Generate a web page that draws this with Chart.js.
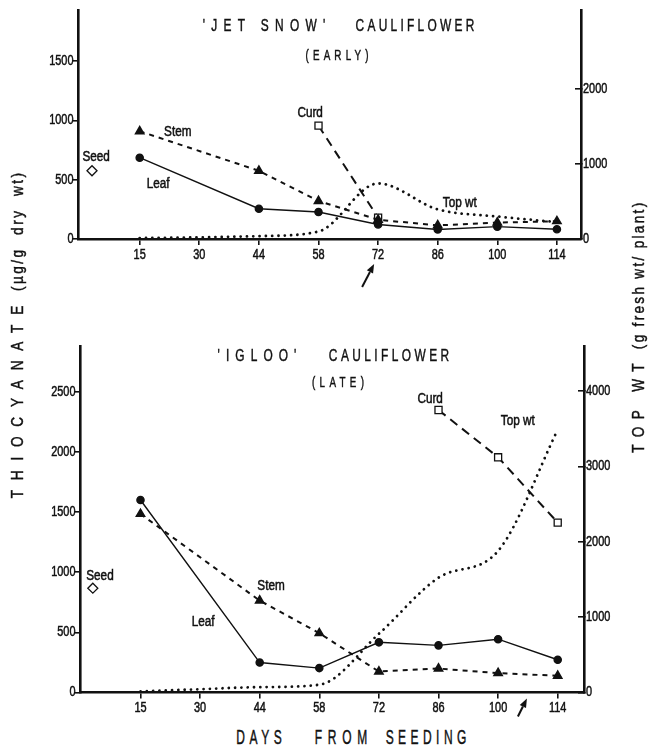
<!DOCTYPE html>
<html>
<head>
<meta charset="utf-8">
<script src="https://cdn.jsdelivr.net/npm/chart.js@4.4.1/dist/chart.umd.min.js"></script>
<style>
  html, body { margin:0; padding:0; background:#fff; }
  body { width:657px; height:746px; overflow:hidden; position:relative;
         font-family:'Liberation Sans',Arial,sans-serif; color:#111; }
  .panel { position:absolute; left:0; width:657px; }
  .t, .x, .rot { -webkit-text-stroke:0.45px #111; }
  .t { position:absolute; white-space:nowrap; line-height:1; transform:translate(-50%,-50%) scaleX(0.7); }
  .x { position:absolute; white-space:nowrap; line-height:1; transform:translate(-50%,-50%) scaleX(0.6); font-size:20px; }
  .rot { position:absolute; white-space:nowrap; line-height:1; font-size:16px;
         transform:translate(-50%,-50%) rotate(-90deg) scaleX(0.85); }
</style>
</head>
<body>
<div class="panel" style="top:0;height:300px"><canvas id="c1"></canvas></div>
<div class="panel" style="top:330px;height:395px"><canvas id="c2"></canvas></div>

<!-- panel titles -->
<div class="t" style="left:264px;top:25px;font-size:17px;letter-spacing:9px;padding-left:9px">'JET SNOW'</div>
<div class="t" style="left:415px;top:25px;font-size:17px;letter-spacing:4.7px;padding-left:4.7px">CAULIFLOWER</div>
<div class="t" style="left:337px;top:55px;font-size:14px;letter-spacing:6px;padding-left:6px">(EARLY)</div>
<div class="t" style="left:257px;top:355px;font-size:17px;letter-spacing:8.7px;padding-left:8.7px">'IGLOO'</div>
<div class="t" style="left:389px;top:355px;font-size:17px;letter-spacing:4.9px;padding-left:4.9px">CAULIFLOWER</div>
<div class="t" style="left:338px;top:382px;font-size:14px;letter-spacing:6.2px;padding-left:6.2px">(LATE)</div>

<!-- axis titles -->
<div class="rot" style="left:18px;top:402px;letter-spacing:11.5px;padding-left:11.5px">THIOCYANATE</div>
<div class="rot" style="left:18px;top:232px;letter-spacing:2.9px;padding-left:2.9px">(µg/g&nbsp;&nbsp;dry&nbsp;&nbsp;wt)</div>
<div class="rot" style="left:639px;top:408px;letter-spacing:8.7px;padding-left:8.7px">TOP WT</div>
<div class="rot" style="left:639px;top:276px;letter-spacing:2.7px;padding-left:2.7px">(g fresh wt/ plant)</div>
<div class="x" style="left:259px;top:737px;letter-spacing:7.7px;padding-left:7.7px">DAYS</div>
<div class="x" style="left:341px;top:737px;letter-spacing:9.5px;padding-left:9.5px">FROM</div>
<div class="x" style="left:426px;top:737px;letter-spacing:7.4px;padding-left:7.4px">SEEDING</div>

<script>
// ---- data ----
const days = [15, 30, 44, 58, 72, 86, 100, 114];
const sampleDays = [15, 44, 58, 72, 86, 100, 114];

// 'Jet Snow' (early)
const jetLeaf = [685, 255, 228, 122, 80, 104, 82];
const jetStem = [908, 575, 320, 162, 115, 138, 150];
const jetCurdDays = [58, 72];
const jetCurd = [955, 180];
const jetSeed = [575];
const jetTopWt = [12, 22, 38, 100, 740, 395, 300, 225];
const jetLeftTicks = [0, 500, 1000, 1500];
const jetRightTicks = [0, 1000, 2000];

// 'Igloo' (late)
const iglooLeaf = [1600, 249, 203, 417, 392, 443, 272];
const iglooStem = [1484, 764, 493, 174, 199, 161, 139];
const iglooCurdDays = [86, 100, 114];
const iglooCurd = [2348, 1955, 1412];
const iglooSeed = [867];
const iglooTopWt = [13, 44, 71, 103, 780, 1524, 1880, 3488];
const iglooLeftTicks = [0, 500, 1000, 1500, 2000, 2500];
const iglooRightTicks = [0, 1000, 2000, 3000, 4000];

const SEED_SLOT = -0.8;               // seed shown before first sampling day
const pos = d => days.indexOf(d);
const pts = (ds, vals) => ds.map((d, i) => ({ x: pos(d), y: vals[i] }));

const INK = '#111';
const FONT = "'Liberation Sans', Arial, sans-serif";
const NARROW = 0.78;   // horizontal squeeze for condensed-looking labels

function narrowText(ctx, txt, x, y, align, sx) {
  ctx.save();
  ctx.translate(x, y);
  ctx.scale(sx, 1);
  ctx.textAlign = align;
  ctx.fillText(String(txt), 0, 0);
  ctx.lineWidth = 0.5;
  ctx.strokeStyle = INK;
  ctx.strokeText(String(txt), 0, 0);
  ctx.restore();
}

// draws the tick labels of the library's scales in a condensed face
const tickLabelPlugin = {
  id: 'condensedTicks',
  afterDraw(chart) {
    const { ctx } = chart;
    const { x, y, y2 } = chart.scales;
    ctx.save();
    ctx.fillStyle = INK;
    ctx.font = '14px ' + FONT;
    ctx.textBaseline = 'middle';
    x.ticks.forEach(t => narrowText(ctx, days[t.value], x.getPixelForValue(t.value), x.top + 16, 'center', NARROW));
    y.ticks.forEach(t => narrowText(ctx, t.value, y.right - 4.5, y.getPixelForValue(t.value), 'right', NARROW));
    y2.ticks.forEach(t => narrowText(ctx, t.value, y2.left + 2, y2.getPixelForValue(t.value), 'left', NARROW));
    ctx.restore();
  }
};

const notesPlugin = {
  id: 'notes',
  afterDatasetsDraw(chart, args, o) {
    const { ctx, scales } = chart;
    const x = scales.x, y = scales.y;
    ctx.save();
    ctx.fillStyle = INK;
    ctx.font = '14px ' + FONT;
    ctx.textBaseline = 'middle';
    (o.notes || []).forEach(n => narrowText(ctx, n.text, x.getPixelForValue(n.x), y.getPixelForValue(n.y), 'center', 0.84));
    if (o.arrow) {
      const a = o.arrow;
      const bx = x.getPixelForValue(a.x), by = chart.chartArea.bottom;
      const tx = bx + a.tip[0], ty = by + a.tip[1];
      const sx = bx + a.tail[0], sy = by + a.tail[1];
      const ang = Math.atan2(ty - sy, tx - sx);
      const L = 9, W = 3.5;
      const hx = tx - L * Math.cos(ang), hy = ty - L * Math.sin(ang);
      ctx.strokeStyle = INK; ctx.lineWidth = 2;
      ctx.beginPath(); ctx.moveTo(sx, sy); ctx.lineTo(hx, hy); ctx.stroke();
      ctx.beginPath();
      ctx.moveTo(tx, ty);
      ctx.lineTo(hx + W * Math.sin(ang), hy - W * Math.cos(ang));
      ctx.lineTo(hx - W * Math.sin(ang), hy + W * Math.cos(ang));
      ctx.closePath(); ctx.fill();
    }
    ctx.restore();
  }
};

function makeChart(id, cfg) {
  const axisBorder = { color: INK, width: 2.6 };
  const grid = { drawOnChartArea: false, color: INK, lineWidth: 1.6, tickLength: 6 };
  const hidden = { display: false };
  return new Chart(document.getElementById(id), {
    type: 'line',
    data: {
      datasets: [
        { label: 'Top wt', yAxisID: 'y2', data: cfg.topWt.map((v, i) => ({ x: i, y: v })),
          borderColor: INK, borderWidth: 2.8, borderDash: [0.01, 6.3], borderCapStyle: 'round',
          pointRadius: 0, cubicInterpolationMode: 'monotone', fill: false },
        { label: 'Leaf', data: pts(sampleDays, cfg.leaf), borderColor: INK, borderWidth: 1.4,
          pointStyle: 'circle', pointRadius: 3.6, pointBackgroundColor: INK, pointBorderColor: INK },
        { label: 'Stem', data: pts(sampleDays, cfg.stem), borderColor: INK, borderWidth: 2, borderDash: [5, 5],
          pointStyle: 'triangle', pointRadius: 4.3, pointBackgroundColor: INK, pointBorderColor: INK },
        { label: 'Curd', data: pts(cfg.curdDays, cfg.curd), borderColor: INK, borderWidth: 2, borderDash: [9, 6],
          pointStyle: 'rect', pointRadius: 5, pointBackgroundColor: '#fff', pointBorderColor: INK, pointBorderWidth: 1.3 },
        { label: 'Seed', data: [{ x: SEED_SLOT, y: cfg.seed[0] }], showLine: false,
          pointStyle: 'rectRot', pointRadius: 5, pointBackgroundColor: '#fff', pointBorderColor: INK, pointBorderWidth: 1.3 }
      ]
    },
    options: {
      responsive: true, maintainAspectRatio: false, animation: false,
      layout: { padding: { top: cfg.padTop, left: 0, right: 0, bottom: 0 } },
      plugins: { legend: { display: false }, tooltip: { enabled: false },
                 notes: { notes: cfg.notes, arrow: cfg.arrow } },
      scales: {
        x: { type: 'linear', min: cfg.xMin, max: cfg.xMax,
             afterBuildTicks: s => { s.ticks = days.map((d, i) => ({ value: i })); },
             ticks: hidden, grid: grid, border: axisBorder,
             afterFit: s => { s.height = cfg.xHeight; } },
        y: { position: 'left', min: 0, max: cfg.leftMax,
             afterBuildTicks: s => { s.ticks = cfg.leftTicks.map(v => ({ value: v })); },
             ticks: hidden, grid: grid, border: axisBorder,
             afterFit: s => { s.width = cfg.leftW; } },
        y2: { position: 'right', min: 0, max: cfg.rightMax,
              afterBuildTicks: s => { s.ticks = cfg.rightTicks.map(v => ({ value: v })); },
              ticks: hidden, grid: Object.assign({}, grid, { tickLength: -6 }), border: axisBorder,
              afterFit: s => { s.width = cfg.rightW; } }
      }
    },
    plugins: [notesPlugin, tickLabelPlugin]
  });
}

makeChart('c1', {
  leaf: jetLeaf, stem: jetStem, curdDays: jetCurdDays, curd: jetCurd, seed: jetSeed, topWt: jetTopWt,
  leftTicks: jetLeftTicks, rightTicks: jetRightTicks,
  leftMax: 1930, rightMax: 3050, xMin: -1.035, xMax: 7.404,
  padTop: 10, xHeight: 61, leftW: 78, rightW: 76,
  notes: [
    { text: 'Seed', x: -0.73, y: 688 },
    { text: 'Stem', x: 0.64, y: 900 },
    { text: 'Leaf', x: 0.31, y: 460 },
    { text: 'Curd', x: 2.86, y: 1060 },
    { text: 'Top wt', x: 5.37, y: 300 }
  ],
  arrow: { x: 4, tip: [-4, 25], tail: [-16, 48] }
});

makeChart('c2', {
  leaf: iglooLeaf, stem: iglooStem, curdDays: iglooCurdDays, curd: iglooCurd, seed: iglooSeed, topWt: iglooTopWt,
  leftTicks: iglooLeftTicks, rightTicks: iglooRightTicks,
  leftMax: 2880, rightMax: 4600, xMin: -1.015, xMax: 7.441,
  padTop: 16, xHeight: 32.5, leftW: 80, rightW: 73,
  notes: [
    { text: 'Curd', x: 4.86, y: 2439 },
    { text: 'Top wt', x: 6.33, y: 2257 },
    { text: 'Seed', x: -0.68, y: 969 },
    { text: 'Stem', x: 2.19, y: 886 },
    { text: 'Leaf', x: 1.05, y: 587 }
  ],
  arrow: { x: 6.5, tip: [-1, 6], tail: [-10, 24] }
});
</script>
</body>
</html>
